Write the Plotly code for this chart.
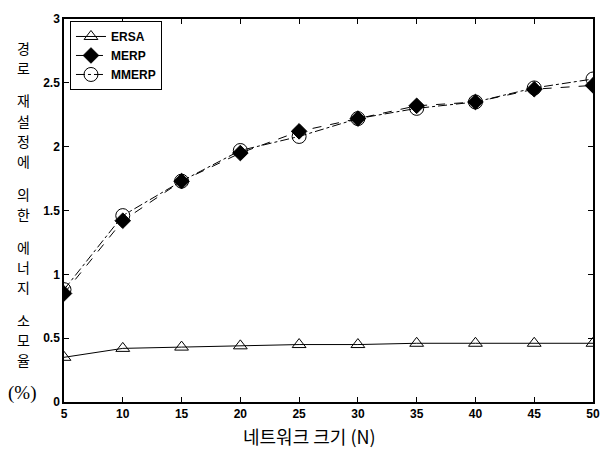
import plotly.graph_objects as go

# ---- data ----
network_size = [5, 10, 15, 20, 25, 30, 35, 40, 45, 50]
ersa = [0.35, 0.42, 0.43, 0.44, 0.45, 0.45, 0.46, 0.46, 0.46, 0.46]
merp = [0.85, 1.42, 1.73, 1.95, 2.12, 2.22, 2.32, 2.35, 2.45, 2.48]
mmerp = [0.88, 1.46, 1.73, 1.97, 2.08, 2.22, 2.30, 2.35, 2.46, 2.53]
x_ticks = [5, 10, 15, 20, 25, 30, 35, 40, 45, 50]
y_ticks = [0, 0.5, 1, 1.5, 2, 2.5, 3]
y_tick_labels = ["0", "0.5", "1", "1.5", "2", "2.5", "3"]
x_title = "네트워크 크기 (N)"
y_title_words = ["경로", "재설정에", "의한", "에너지", "소모율"]
y_title_unit = "(%)"

W, H = 612, 450
L, R, T, B = 64, 595, 14, 402

fig = go.Figure()
fig.add_trace(go.Scatter(
    x=network_size, y=ersa, name="ERSA", mode="lines+markers",
    line=dict(color="black", width=1),
    marker=dict(symbol="triangle-up-open", size=12, color="black",
                line=dict(width=1, color="black"))))
fig.add_trace(go.Scatter(
    x=network_size, y=merp, name="MERP", mode="lines+markers",
    line=dict(color="black", width=1, dash="dash"),
    marker=dict(symbol="diamond", size=12, color="black",
                line=dict(width=1, color="black"))))
fig.add_trace(go.Scatter(
    x=network_size, y=mmerp, name="MMERP", mode="lines+markers",
    line=dict(color="black", width=1, dash="dashdot"),
    marker=dict(symbol="circle-open", size=14, color="black",
                line=dict(width=1, color="black"))))

tick_font = dict(family="Liberation Sans", size=12, color="black", weight="bold")
kfont = "Noto Sans CJK KR"

fig.update_layout(
    width=W, height=H,
    margin=dict(l=L, r=W - R, t=T, b=H - B, pad=0),
    paper_bgcolor="white", plot_bgcolor="white",
    showlegend=True,
    legend=dict(x=(70 - L) / (R - L), y=(B - 16) / (B - T),
                xanchor="left", yanchor="top",
                bgcolor="white", bordercolor="black", borderwidth=1,
                font=dict(family="Liberation Sans", size=12, color="black", weight="bold"),
                itemwidth=30, tracegroupgap=0),
    xaxis=dict(range=[5, 50], tickvals=x_ticks, ticks="inside", ticklen=5,
               tickcolor="black", tickwidth=1, showline=True, linecolor="black",
               linewidth=1.5, mirror="ticks", showgrid=False, zeroline=False,
               tickfont=tick_font),
    yaxis=dict(range=[0, 3], tickvals=y_ticks, ticktext=y_tick_labels,
               ticks="inside", ticklen=5, tickcolor="black", tickwidth=1,
               showline=True, linecolor="black", linewidth=1.5, mirror="ticks",
               showgrid=False, zeroline=False, tickfont=tick_font),
)

def px_x(px):
    return (px - L) / (R - L)

def px_y(py):
    return (B - py) / (B - T)

ann = []
ann.append(dict(text=x_title, x=px_x(310), y=px_y(436), xref="paper", yref="paper",
                showarrow=False, font=dict(family=kfont, size=18, color="black"),
                xanchor="center", yanchor="middle"))

# vertical y-axis title, character by character
char_step = 20.5
word_gap = 12.5
cy = 43
for w in y_title_words:
    for ch in w:
        ann.append(dict(text=ch, x=px_x(23), y=px_y(cy), xref="paper", yref="paper",
                        showarrow=False, font=dict(family=kfont, size=14, color="black"),
                        xanchor="center", yanchor="middle"))
        cy += char_step
    cy += word_gap
ann.append(dict(text=y_title_unit, x=px_x(22), y=px_y(393), xref="paper", yref="paper",
                showarrow=False, font=dict(family="Liberation Serif", size=19, color="black"),
                xanchor="center", yanchor="middle"))
fig.update_layout(annotations=ann)

fig.write_html("out.html",
               config={"displayModeBar": False},
               post_script="document.body.style.margin='0';document.body.style.overflow='hidden';")
